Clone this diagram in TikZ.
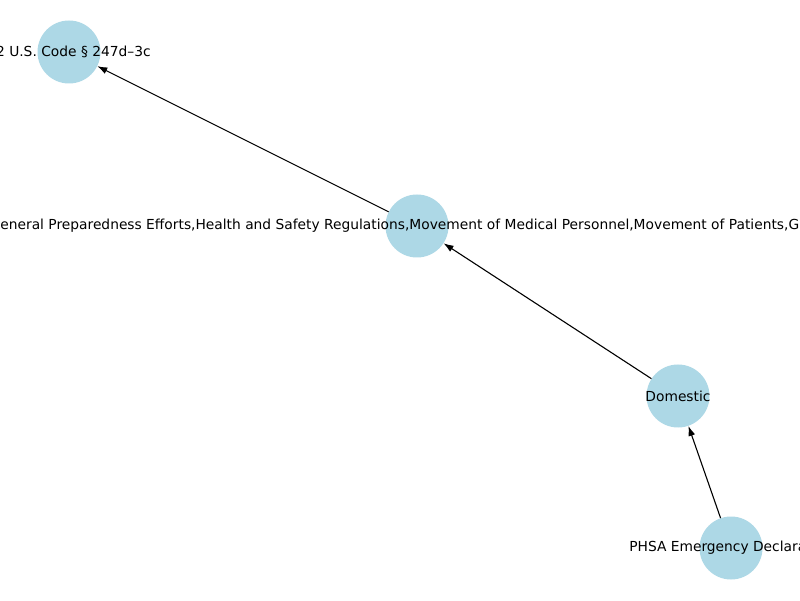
\documentclass[tikz,border=0pt]{standalone}
\usepackage{fontspec}
\setmainfont{DejaVu Sans}
\usetikzlibrary{arrows.meta}
\begin{document}
\begin{tikzpicture}[x=1pt,y=1pt,
  vert/.style={circle,fill=lightblue,minimum size=63pt,inner sep=0pt},
  lbl/.style={inner sep=0pt,font=\fontsize{13.8}{16}\selectfont,text=black},
  edge/.style={draw=black,line width=1.1pt,-{Latex[length=10pt,width=7pt]}}]
\definecolor{lightblue}{HTML}{ADD8E6}
\useasboundingbox (0,0) rectangle (800,600);
\clip (0,0) rectangle (800,600);
\fill[white] (0,0) rectangle (800,600);
\node[vert] (c1) at (69,548) {};
\node[vert] (c2) at (417,374) {};
\node[vert] (c3) at (678,204) {};
\node[vert] (c4) at (731,52) {};
\draw[edge] (c4) -- (c3);
\draw[edge] (c3) -- (c2);
\draw[edge] (c2) -- (c1);
\node[lbl] (t1) at (69,548) {42 U.S. Code § 247d–3c};
\node[lbl,anchor=west] (t2) at (-10.5,374) {General Preparedness Efforts,Health and Safety Regulations,Movement of Medical Personnel,Movement of Patients,G};
\node[lbl] (t3) at (678,204) {Domestic};
\node[lbl] (t4) at (731,52) {PHSA Emergency Declaration};
\end{tikzpicture}
\end{document}
